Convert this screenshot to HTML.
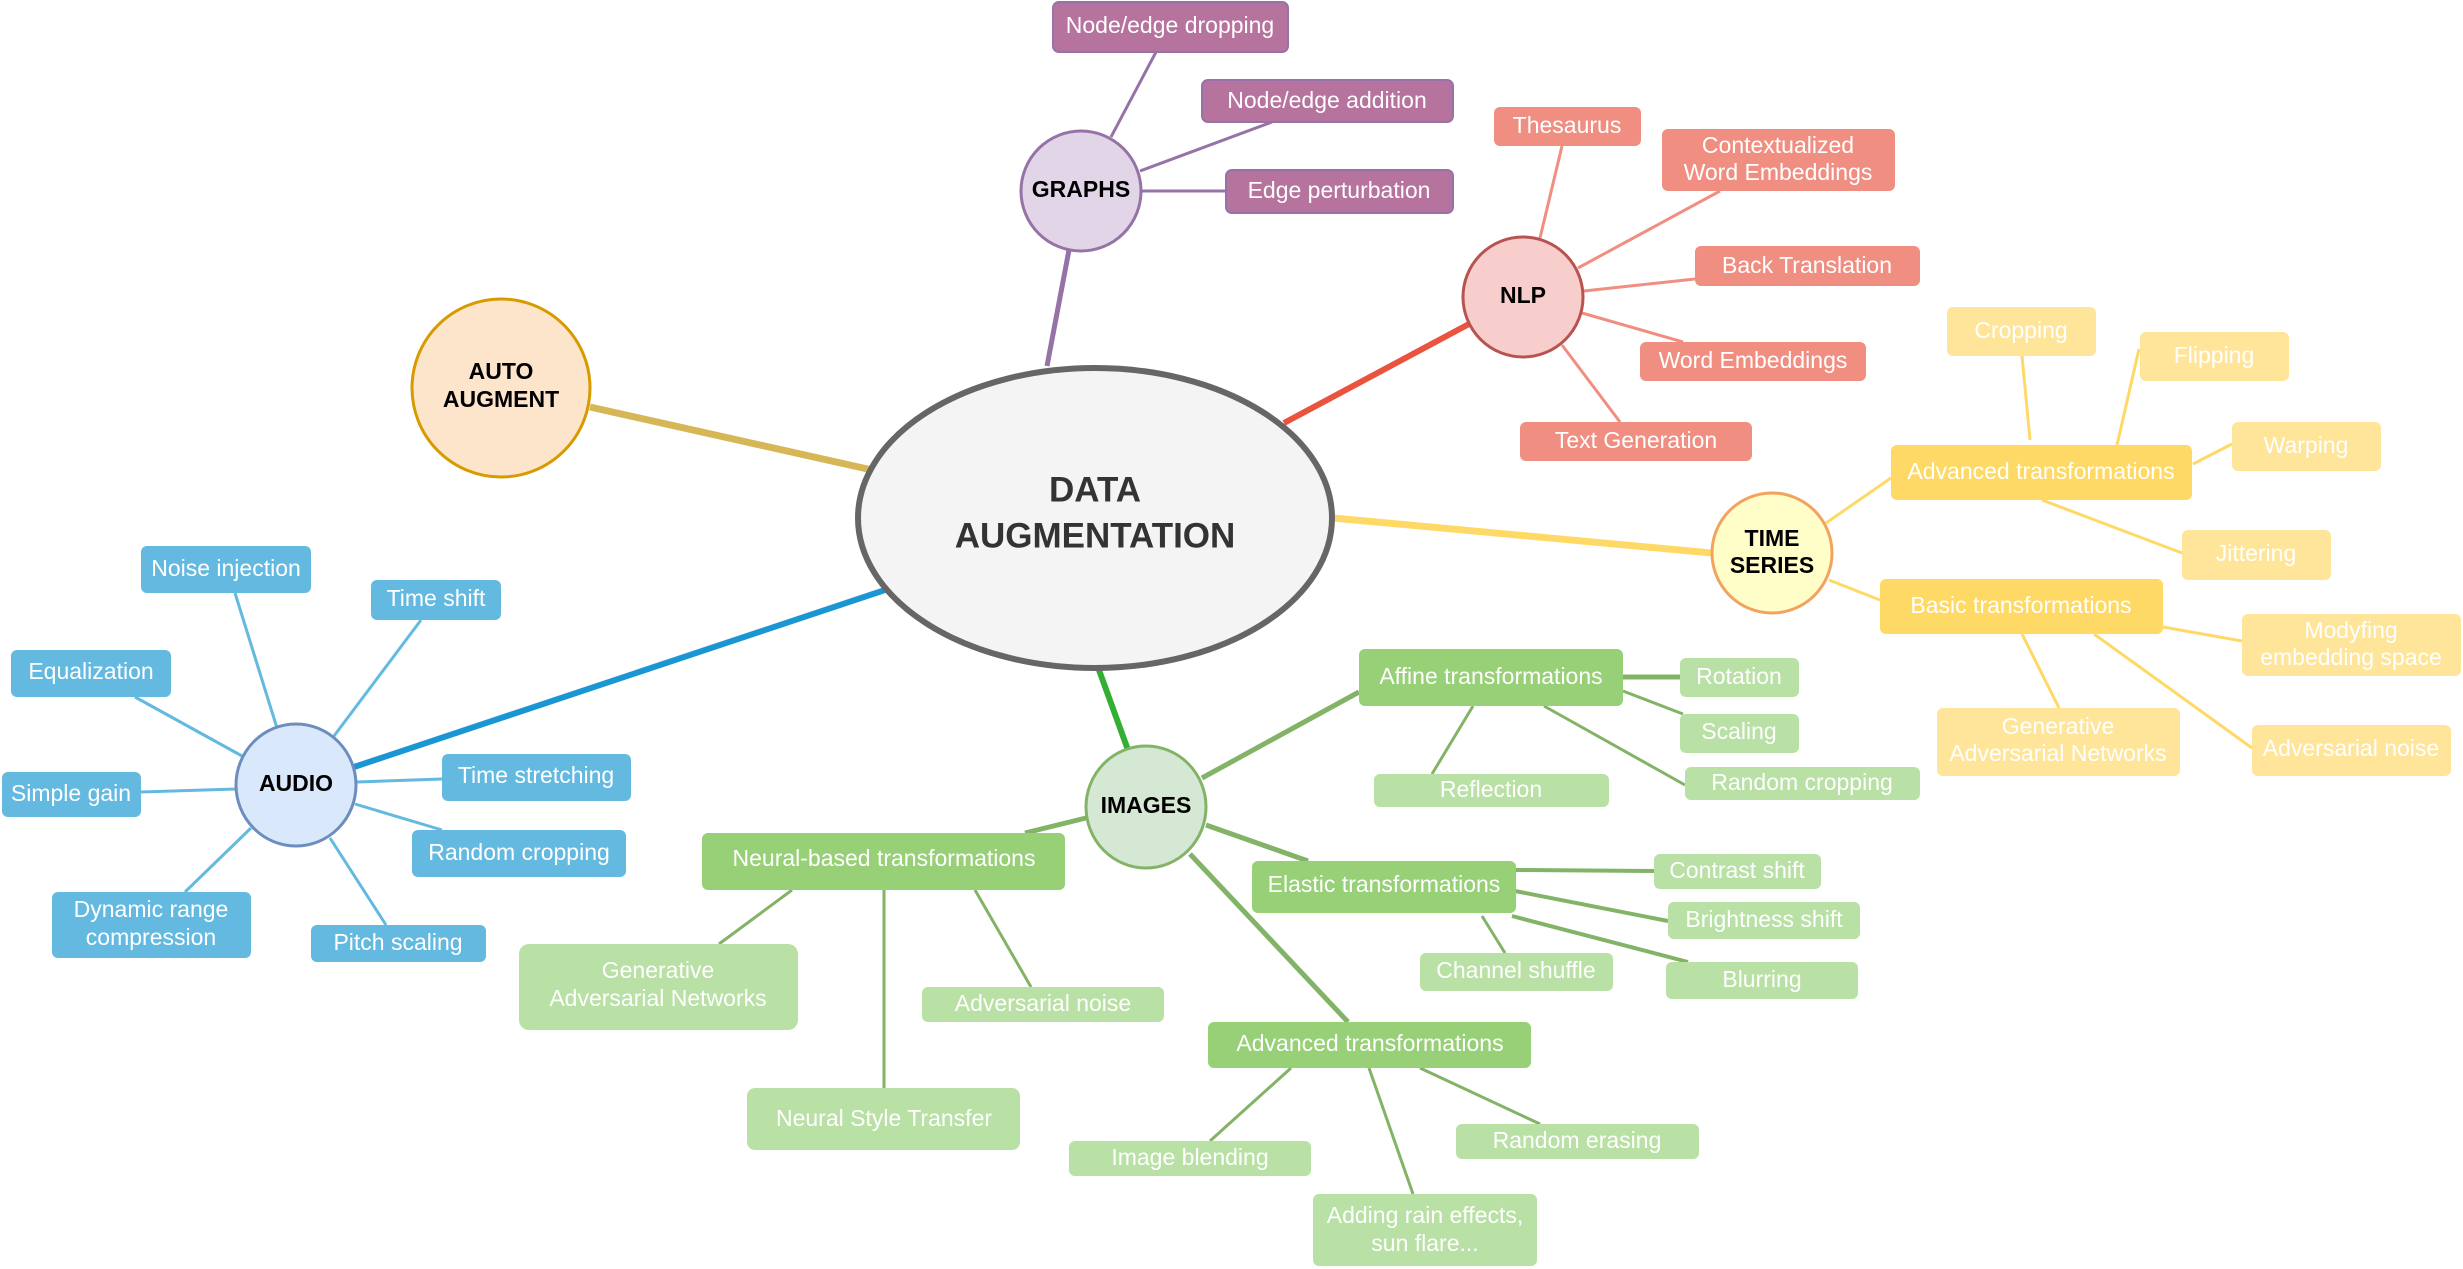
<!DOCTYPE html>
<html><head><meta charset="utf-8"><style>
html,body{margin:0;padding:0;background:#fff;}
svg{display:block;font-family:"Liberation Sans",Arial,sans-serif;}
.t{fill:#fff;font-size:23px;text-anchor:middle;dominant-baseline:central;}
.b{fill:#000;font-size:23px;font-weight:bold;text-anchor:middle;dominant-baseline:central;}
</style></head><body>
<svg width="2463" height="1269" viewBox="0 0 2463 1269" xmlns="http://www.w3.org/2000/svg">
<!-- main connectors -->
<g stroke-linecap="butt">
<line x1="590" y1="407" x2="872" y2="470" stroke="#d6b656" stroke-width="7"/>
<line x1="1047" y1="366" x2="1069" y2="250" stroke="#9673a6" stroke-width="5"/>
<line x1="1284" y1="423" x2="1469" y2="324" stroke="#ea533d" stroke-width="6"/>
<line x1="1333" y1="518" x2="1712" y2="553" stroke="#ffd966" stroke-width="7"/>
<line x1="885" y1="590" x2="354" y2="767" stroke="#1a96d4" stroke-width="6"/>
<line x1="1099" y1="670" x2="1128" y2="750" stroke="#33b033" stroke-width="6"/>
</g>
<!-- graph lines -->
<g stroke="#9673a6" stroke-width="3">
<line x1="1111" y1="137" x2="1156" y2="52"/>
<line x1="1140" y1="171" x2="1272" y2="122"/>
<line x1="1141" y1="191" x2="1226" y2="191"/>
</g>
<!-- nlp lines -->
<g stroke="#f08e81" stroke-width="3">
<line x1="1540" y1="238" x2="1562" y2="146"/>
<line x1="1578" y1="268" x2="1720" y2="191"/>
<line x1="1584" y1="291" x2="1695" y2="279"/>
<line x1="1582" y1="313" x2="1683" y2="342"/>
<line x1="1562" y1="345" x2="1620" y2="422"/>
</g>
<!-- ts lines -->
<g stroke="#ffd966" stroke-width="3">
<line x1="1826" y1="523" x2="1891" y2="478"/>
<line x1="1829" y1="580" x2="1880" y2="600"/>
<line x1="2030" y1="440" x2="2022" y2="356"/>
<line x1="2117" y1="445" x2="2139" y2="349"/>
<line x1="2193" y1="464" x2="2232" y2="444"/>
<line x1="2042" y1="500" x2="2182" y2="553"/>
<line x1="2163" y1="627" x2="2242" y2="641"/>
<line x1="2022" y1="634" x2="2059" y2="708"/>
<line x1="2094" y1="634" x2="2252" y2="748"/>
</g>
<!-- audio lines -->
<g stroke="#63b9e0" stroke-width="3">
<line x1="277" y1="728" x2="235" y2="593"/>
<line x1="334" y1="736" x2="421" y2="620"/>
<line x1="242" y1="756" x2="135" y2="697"/>
<line x1="236" y1="789" x2="141" y2="792"/>
<line x1="357" y1="782" x2="442" y2="779"/>
<line x1="355" y1="804" x2="442" y2="830"/>
<line x1="251" y1="828" x2="185" y2="892"/>
<line x1="330" y1="838" x2="386" y2="925"/>
</g>
<!-- images lines -->
<g stroke="#82b366" stroke-width="5">
<line x1="1202" y1="778" x2="1359" y2="692"/>
<line x1="1206" y1="825" x2="1308" y2="861"/>
<line x1="1190" y1="854" x2="1348" y2="1022"/>
<line x1="1086" y1="818" x2="1025" y2="833"/>
</g>
<g stroke="#82b366" stroke-width="3">
<line x1="1623" y1="677" x2="1680" y2="677" stroke-width="5"/>
<line x1="1623" y1="691" x2="1683" y2="714"/>
<line x1="1473" y1="706" x2="1432" y2="774"/>
<line x1="1544" y1="706" x2="1685" y2="785"/>
<line x1="1516" y1="870" x2="1654" y2="871" stroke-width="4"/>
<line x1="1515" y1="891" x2="1668" y2="921" stroke-width="4"/>
<line x1="1512" y1="916" x2="1688" y2="962" stroke-width="4"/>
<line x1="1482" y1="916" x2="1505" y2="953"/>
<line x1="1291" y1="1068" x2="1210" y2="1141"/>
<line x1="1369" y1="1068" x2="1413" y2="1194"/>
<line x1="1420" y1="1068" x2="1540" y2="1124"/>
<line x1="792" y1="890" x2="719" y2="944"/>
<line x1="884" y1="890" x2="884" y2="1088"/>
<line x1="975" y1="890" x2="1031" y2="987"/>
</g>

<!-- main nodes -->
<ellipse cx="1095" cy="518" rx="237" ry="150" fill="#f4f4f4" stroke="#666" stroke-width="6"/>
<text x="1095" y="490" font-size="35" font-weight="bold" fill="#333" text-anchor="middle" dominant-baseline="central">DATA</text>
<text x="1095" y="536" font-size="35" font-weight="bold" fill="#333" text-anchor="middle" dominant-baseline="central">AUGMENTATION</text>

<ellipse cx="501" cy="388" rx="89" ry="89" fill="#fde5cc" stroke="#d79b00" stroke-width="3"/>
<text class="b" x="501" y="371">AUTO</text><text class="b" x="501" y="399">AUGMENT</text>

<ellipse cx="1081" cy="191" rx="60" ry="60" fill="#e1d5e7" stroke="#9673a6" stroke-width="3"/>
<text class="b" x="1081" y="189">GRAPHS</text>

<ellipse cx="1523" cy="297" rx="60" ry="60" fill="#f8cecc" stroke="#b85450" stroke-width="3"/>
<text class="b" x="1523" y="295">NLP</text>

<ellipse cx="1772" cy="553" rx="60" ry="60" fill="#fffdc8" stroke="#f2a35e" stroke-width="3"/>
<text class="b" x="1772" y="538">TIME</text><text class="b" x="1772" y="565">SERIES</text>

<ellipse cx="296" cy="785" rx="60" ry="61" fill="#dae8fc" stroke="#6c8ebf" stroke-width="3"/>
<text class="b" x="296" y="783">AUDIO</text>

<ellipse cx="1146" cy="807" rx="60" ry="61" fill="#d5e8d4" stroke="#82b366" stroke-width="3"/>
<text class="b" x="1146" y="805">IMAGES</text>

<!-- graph leaves -->
<g fill="#b5739d" stroke="#9673a6" stroke-width="2">
<rect x="1053" y="2" width="235" height="50" rx="6"/>
<rect x="1202" y="80" width="251" height="42" rx="6"/>
<rect x="1226" y="170" width="227" height="43" rx="6"/>
</g>
<text class="t" x="1170" y="25">Node/edge dropping</text>
<text class="t" x="1327" y="100">Node/edge addition</text>
<text class="t" x="1339" y="190">Edge perturbation</text>

<!-- nlp leaves -->
<g fill="#f08e81">
<rect x="1494" y="107" width="147" height="39" rx="6"/>
<rect x="1662" y="129" width="233" height="62" rx="6"/>
<rect x="1695" y="246" width="225" height="40" rx="6"/>
<rect x="1640" y="342" width="226" height="39" rx="6"/>
<rect x="1520" y="422" width="232" height="39" rx="6"/>
</g>
<text class="t" x="1567" y="125">Thesaurus</text>
<text class="t" x="1778" y="145">Contextualized</text><text class="t" x="1778" y="172">Word Embeddings</text>
<text class="t" x="1807" y="265">Back Translation</text>
<text class="t" x="1753" y="360">Word Embeddings</text>
<text class="t" x="1636" y="440">Text Generation</text>

<!-- ts -->
<g fill="#ffd966">
<rect x="1891" y="445" width="301" height="55" rx="6"/>
<rect x="1880" y="579" width="283" height="55" rx="6"/>
</g>
<g fill="#ffe599">
<rect x="1947" y="307" width="149" height="49" rx="6"/>
<rect x="2140" y="332" width="149" height="49" rx="6"/>
<rect x="2232" y="422" width="149" height="49" rx="6"/>
<rect x="2182" y="530" width="149" height="50" rx="6"/>
<rect x="2242" y="614" width="219" height="62" rx="6"/>
<rect x="1937" y="708" width="243" height="68" rx="6"/>
<rect x="2252" y="725" width="199" height="51" rx="6"/>
</g>
<text class="t" x="2041" y="471">Advanced transformations</text>
<text class="t" x="2021" y="605">Basic transformations</text>
<text class="t" x="2021" y="330">Cropping</text>
<text class="t" x="2214" y="355">Flipping</text>
<text class="t" x="2306" y="445">Warping</text>
<text class="t" x="2256" y="553">Jittering</text>
<text class="t" x="2351" y="630">Modyfing</text><text class="t" x="2351" y="657">embedding space</text>
<text class="t" x="2058" y="726">Generative</text><text class="t" x="2058" y="753">Adversarial Networks</text>
<text class="t" x="2351" y="748">Adversarial noise</text>

<!-- audio -->
<g fill="#63b9e0">
<rect x="141" y="546" width="170" height="47" rx="6"/>
<rect x="371" y="580" width="130" height="40" rx="6"/>
<rect x="11" y="650" width="160" height="47" rx="6"/>
<rect x="2" y="772" width="139" height="45" rx="6"/>
<rect x="442" y="754" width="189" height="47" rx="6"/>
<rect x="412" y="830" width="214" height="47" rx="6"/>
<rect x="52" y="892" width="199" height="66" rx="6"/>
<rect x="311" y="925" width="175" height="37" rx="6"/>
</g>
<text class="t" x="226" y="568">Noise injection</text>
<text class="t" x="436" y="598">Time shift</text>
<text class="t" x="91" y="671">Equalization</text>
<text class="t" x="71" y="793">Simple gain</text>
<text class="t" x="536" y="775">Time stretching</text>
<text class="t" x="519" y="852">Random cropping</text>
<text class="t" x="151" y="909">Dynamic range</text><text class="t" x="151" y="937">compression</text>
<text class="t" x="398" y="942">Pitch scaling</text>

<!-- images -->
<g fill="#97d077">
<rect x="1359" y="649" width="264" height="57" rx="6"/>
<rect x="1252" y="861" width="264" height="52" rx="6"/>
<rect x="1208" y="1022" width="323" height="46" rx="6"/>
<rect x="702" y="833" width="363" height="57" rx="6"/>
</g>
<g fill="#b9e0a5">
<rect x="1680" y="658" width="119" height="39" rx="6"/>
<rect x="1680" y="714" width="119" height="39" rx="6"/>
<rect x="1685" y="767" width="235" height="33" rx="6"/>
<rect x="1374" y="774" width="235" height="33" rx="6"/>
<rect x="1654" y="854" width="167" height="35" rx="6"/>
<rect x="1668" y="902" width="192" height="37" rx="6"/>
<rect x="1666" y="962" width="192" height="37" rx="6"/>
<rect x="1420" y="953" width="193" height="38" rx="6"/>
<rect x="1456" y="1124" width="243" height="35" rx="6"/>
<rect x="1313" y="1194" width="224" height="72" rx="6"/>
<rect x="1069" y="1141" width="242" height="35" rx="6"/>
<rect x="519" y="944" width="279" height="86" rx="10"/>
<rect x="922" y="987" width="242" height="35" rx="6"/>
<rect x="747" y="1088" width="273" height="62" rx="8"/>
</g>
<text class="t" x="1491" y="676">Affine transformations</text>
<text class="t" x="1384" y="884">Elastic transformations</text>
<text class="t" x="1370" y="1043">Advanced transformations</text>
<text class="t" x="884" y="858">Neural-based transformations</text>
<text class="t" x="1739" y="676">Rotation</text>
<text class="t" x="1739" y="731">Scaling</text>
<text class="t" x="1802" y="782">Random cropping</text>
<text class="t" x="1491" y="789">Reflection</text>
<text class="t" x="1737" y="870">Contrast shift</text>
<text class="t" x="1764" y="919">Brightness shift</text>
<text class="t" x="1762" y="979">Blurring</text>
<text class="t" x="1516" y="970">Channel shuffle</text>
<text class="t" x="1577" y="1140">Random erasing</text>
<text class="t" x="1425" y="1215">Adding rain effects,</text><text class="t" x="1425" y="1243">sun flare...</text>
<text class="t" x="1190" y="1157">Image blending</text>
<text class="t" x="658" y="970">Generative</text><text class="t" x="658" y="998">Adversarial Networks</text>
<text class="t" x="1043" y="1003">Adversarial noise</text>
<text class="t" x="884" y="1118">Neural Style Transfer</text>
</svg>
</body></html>
